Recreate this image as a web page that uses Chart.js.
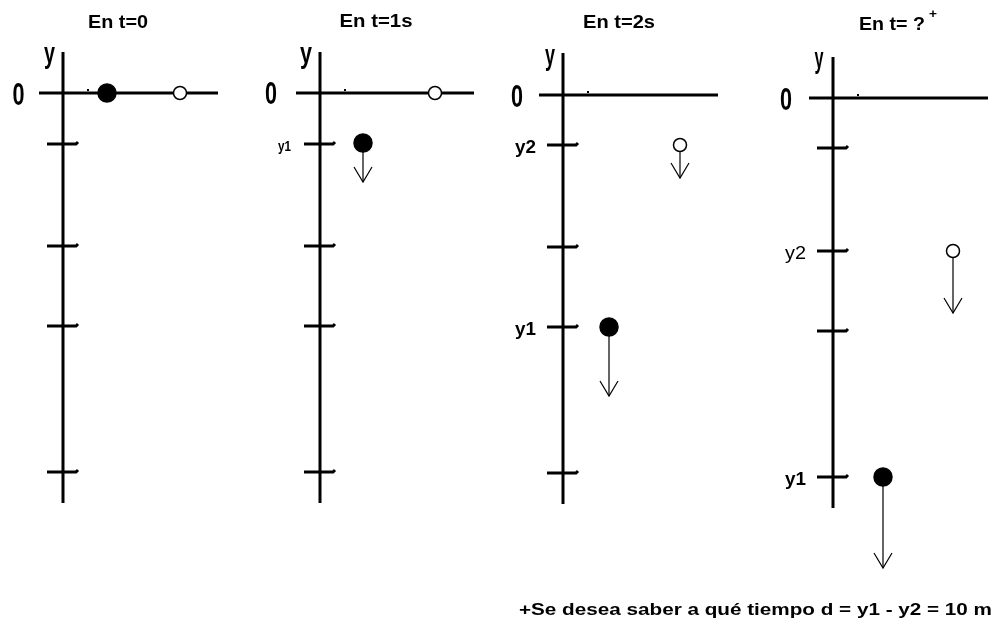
<!DOCTYPE html>
<html>
<head>
<meta charset="utf-8">
<script src="https://cdn.jsdelivr.net/npm/chart.js@4/dist/chart.umd.min.js"></script>
<style>
  html, body { margin: 0; padding: 0; background: #ffffff; }
  #wrap { width: 996px; height: 620px; }
</style>
</head>
<body>
<div id="wrap"><canvas id="c" width="996" height="620"></canvas></div>
<script>
// ---------- DATA (diagram units = drawing units of the linear scales) ----------
const panelTitles = ['En t=0', 'En t=1s', 'En t=2s', 'En t= ?'];
const axisX       = [63, 320, 563, 833];
const axisTop     = [52, 52, 53, 57];
const axisBottom  = [503, 503, 504, 508];
const originY     = [93, 93, 95, 98];
const hAxisLeft   = [39, 296, 539, 809];
const hAxisRight  = [218, 474, 718, 988];
const tickY = [
  [144, 246, 326, 472],
  [144, 246, 326, 472],
  [145, 247, 327, 473],
  [148, 251, 331, 477]
];
const dotX = [88, 345, 588, 858];
// solid ball (ball 1) and open ball (ball 2) positions per panel
const solidX = [107, 363, 609, 883];
const solidY = [93, 143, 327, 477];
const openX  = [180, 435, 680, 953];
const openY  = [93, 93, 145, 251];
// arrow tips (null = no arrow)
const solidArrowTip = [null, 182, 396, 568];
const openArrowTip  = [null, null, 178, 313];
// tick labels: [panel, tickIndex, text, bold]
const tickLabels = [
  [1, 0, 'y1', true],
  [2, 0, 'y2', true],
  [2, 2, 'y1', true],
  [3, 1, 'y2', false],
  [3, 3, 'y1', true]
];
const footnote = '+Se desea saber a qué tiempo d = y1 - y2 = 10 m';

// ---------- build datasets ----------
const K = '#000000';
const datasets = [];
function seg(points, width, order) {
  datasets.push({
    data: points, showLine: true, borderColor: K, borderWidth: width,
    pointRadius: 0, pointHoverRadius: 0, tension: 0, fill: false,
    borderCapStyle: 'butt', borderJoinStyle: 'miter', order: order
  });
}
function ball(x, y, r, fillCol, order) {
  datasets.push({
    data: [{x: x, y: y}], showLine: false, pointStyle: 'circle',
    pointRadius: r, pointHoverRadius: r, backgroundColor: fillCol,
    borderColor: K, borderWidth: 1.5, order: order
  });
}
for (let p = 0; p < 4; p++) {
  seg([{x: axisX[p], y: axisTop[p]}, {x: axisX[p], y: axisBottom[p]}], 3, 5);
  seg([{x: hAxisLeft[p], y: originY[p]}, {x: hAxisRight[p], y: originY[p]}], 3, 5);
  seg([{x: dotX[p] - 1, y: originY[p] - 3}, {x: dotX[p] + 1, y: originY[p] - 3}], 2, 5);
  tickY[p].forEach(function (ty) {
    seg([{x: axisX[p] - 16, y: ty}, {x: axisX[p] + 13, y: ty}, {x: axisX[p] + 15, y: ty - 2}], 3, 5);
  });
  [[solidX[p], solidY[p], solidArrowTip[p], 9], [openX[p], openY[p], openArrowTip[p], 9]].forEach(function (a) {
    if (a[2] === null) return;
    seg([{x: a[0], y: a[1]}, {x: a[0], y: a[2]}], 1.2, 4);
    seg([{x: a[0] - a[3], y: a[2] - 15}, {x: a[0], y: a[2]}, {x: a[0] + a[3], y: a[2] - 15}], 1.2, 4);
  });
  ball(solidX[p], solidY[p], 9, K, 1);
  ball(openX[p], openY[p], 6.5, '#ffffff', 1);
}

// ---------- text plugin ----------
const FONT = '"Liberation Sans", Arial, sans-serif';
const textPlugin = {
  id: 'diagramText',
  afterDatasetsDraw: function (chart) {
    const ctx = chart.ctx;
    const sx = chart.scales.x, sy = chart.scales.y;
    // draws text fitted exactly to width w (stretch or compress)
    function T(txt, x, y, size, bold, align, w) {
      ctx.save();
      ctx.fillStyle = K;
      ctx.font = (bold ? 'bold ' : '') + size + 'px ' + FONT;
      ctx.textAlign = 'left';
      ctx.textBaseline = 'alphabetic';
      const nat = ctx.measureText(txt).width;
      const k = w / nat;
      let px = sx.getPixelForValue(x);
      if (align === 'center') px -= w / 2;
      else if (align === 'right') px -= w;
      ctx.translate(px, sy.getPixelForValue(y));
      ctx.scale(k, 1);
      ctx.fillText(txt, 0, 0);
      ctx.restore();
    }
    const titleCx = [118, 376, 619, 892];
    const titleW  = [60, 73, 72, 66];
    const titleBase = [28, 27, 28, 30];
    for (let p = 0; p < 4; p++) {
      T(panelTitles[p], titleCx[p], titleBase[p], 19, true, 'center', titleW[p]);
    }
    T('+', 933, 18, 13, true, 'center', 8);
    const zeroCx = [18.5, 271, 517, 786];
    const zeroBase = [105, 104, 107, 110];
    for (let p = 0; p < 4; p++) {
      T('0', zeroCx[p], zeroBase[p], 22 / 0.716, true, 'center', 12);
    }
    const yCx = [49.5, 306, 550, 819];
    const yBase = [63, 63, 65, 68];
    const yW = [11, 12, 10, 9];
    for (let p = 0; p < 4; p++) {
      T('y', yCx[p], yBase[p], 30, true, 'center', yW[p]);
    }
    tickLabels.forEach(function (l) {
      const p = l[0], ty = tickY[p][l[1]];
      const small = (p === 1);
      const size = small ? 14 : 18;
      const right = axisX[p] - (small ? 29 : 27);
      const w = small ? 13 : 21;
      T(l[2], right, ty + (small ? 7 : 8), size, l[3], 'right', w);
    });
    T(footnote, 519, 615, 17, true, 'left', 473);
  }
};

new Chart(document.getElementById('c'), {
  type: 'scatter',
  data: { datasets: datasets },
  options: {
    responsive: false,
    animation: false,
    events: [],
    layout: { padding: 0, autoPadding: false },
    plugins: { legend: { display: false }, tooltip: { enabled: false }, title: { display: false } },
    scales: {
      x: { type: 'linear', min: 0, max: 996, display: false },
      y: { type: 'linear', min: 0, max: 620, reverse: true, display: false }
    }
  },
  plugins: [textPlugin]
});
</script>
</body>
</html>
